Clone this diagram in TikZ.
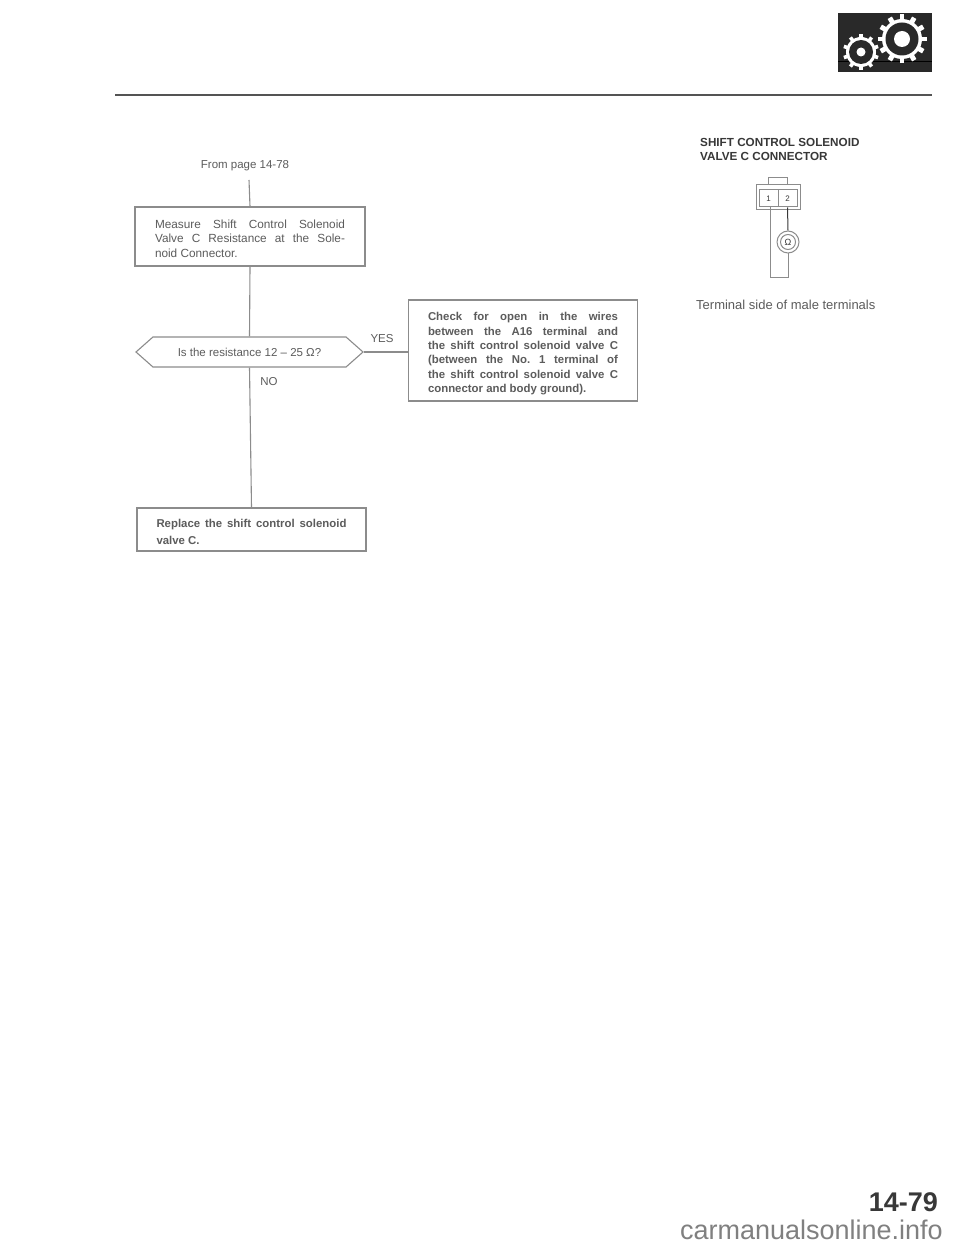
\documentclass[tikz,border=0pt]{standalone}
\usepackage{fontspec}
\setmainfont{Liberation Sans}
\frenchspacing
\usetikzlibrary{shapes.symbols}
\definecolor{ink}{gray}{0.36}
\definecolor{wire}{gray}{0.55}
\definecolor{dark}{gray}{0.22}
\definecolor{plate}{gray}{0.16}
\newcommand{\fl}[1]{\makebox[190pt][s]{#1}}
\newcommand{\tp}[1]{\rule{0pt}{#1pt}}
\tikzset{
  flowbox/.style={draw=wire,line width=1.1pt,rectangle,inner sep=0pt,text=ink,align=left},
  link/.style={draw=wire,line width=1.1pt},
  lbl/.style={inner sep=0pt,text=ink,font=\fontsize{11.5}{13}\selectfont},
  hdr/.style={inner sep=0pt,text=dark,anchor=west,font=\fontsize{11.7}{13}\selectfont\bfseries},
  conn/.style={draw=wire,line width=1pt},
  pinbox/.style={conn,draw,rectangle,minimum width=19pt,minimum height=17pt,inner sep=0pt,text=dark,font=\fontsize{8}{9}\selectfont}
}
\newcommand{\gear}[5]{% x y outer inner teeth
  \fill[white] (#1,#2) circle (#4);
  \foreach \a in {1,...,#5}{
    \fill[white,rotate around={360/#5*\a:(#1,#2)}] (#1-#3*0.1,#2) rectangle (#1+#3*0.1,#2-#3);
  }
}
\begin{document}
\begin{tikzpicture}[x=1pt,y=-1pt]
\useasboundingbox (0,0) rectangle (960,1246);
\fill[white] (0,0) rectangle (960,1246);
% header icon and rule
\fill[plate] (838,13) rectangle (932,72);
\draw[black,line width=1pt] (838,62) -- (932,62);
\gear{902}{39}{24.5}{20}{12}
\fill[plate] (902,39) circle (16.5);
\fill[white] (902,39) circle (8);
\gear{861}{52}{18}{15}{10}
\fill[plate] (861,52) circle (12);
\fill[white] (861,52) circle (4.5);
\draw[plate!80,line width=1.6pt] (115,95) -- (932,95);
% flowchart
\node[lbl] (from) at (245,166) {From page 14-78};
\coordinate (fromend) at (249,180);
\node[flowbox,minimum width=230pt,minimum height=59pt,font=\fontsize{11.8}{14.2}\selectfont] (measure) at (250,236.5)
  {\tp{13}\fl{Measure Shift Control Solenoid}\\\fl{Valve C Resistance at the Sole-}\\noid Connector.};
\node[signal,signal to=west and east,signal pointer angle=83,draw=wire,line width=1.1pt,minimum width=227pt,minimum height=30pt,inner sep=0pt,text=ink,font=\fontsize{11.5}{13}\selectfont] (ask) at (249.5,352) {Is the resistance 12 -- 25 Ω?};
\node[flowbox,minimum width=229pt,minimum height=101pt,font=\fontsize{11.4}{14.4}\selectfont\bfseries] (check) at (523,350.5)
  {\tp{15}\fl{Check for open in the wires}\\\fl{between the A16 terminal and}\\\fl{the shift control solenoid valve C}\\\fl{(between the No. 1 terminal of}\\\fl{the shift control solenoid valve C}\\connector and body ground).};
\node[flowbox,minimum width=229pt,minimum height=43pt,font=\fontsize{11.4}{17}\selectfont\bfseries] (replace) at (251.5,529.5)
  {\tp{13}\fl{Replace the shift control solenoid}\\valve C.};
\node[lbl] (yes) at (382,339) {YES};
\node[lbl] (no) at (269,382) {NO};
\draw[link] (fromend) -- (measure.north);
\draw[link] (measure.south) -- (ask.north);
\draw[link] (ask.south) -- (replace.north);
\draw[link] (ask.east) -- (ask.east -| check.west);
% connector panel
\node[hdr] (title1) at (700,142) {SHIFT CONTROL SOLENOID};
\node[hdr] (title2) at (700,156) {VALVE C CONNECTOR};
\draw[conn] (756,185) rectangle (800,210);
\draw[conn] (768,185) -- (768,178) -- (787,178) -- (787,185);
\node[pinbox] (pinone) at (768.5,198.5) {1};
\node[pinbox] (pintwo) at (787.5,198.5) {2};
\node[circle,draw=wire,line width=1pt,minimum size=22pt,inner sep=0pt,text=dark,font=\fontsize{9}{10}\selectfont] (meter) at (788,242) {Ω};
\draw[conn] (meter) circle (7.5);
\coordinate (loopright) at (788,278);
\coordinate (loopleft) at (770,278);
\draw[conn,draw=dark] (pintwo.south) -- (meter.north);
\draw[conn] (meter.south) -- (loopright) -- (loopleft) -- (pinone.south -| loopleft);
\node[lbl,font=\fontsize{13}{15}\selectfont,anchor=west] (side) at (696,305) {Terminal side of male terminals};
% page number and footer
\node[inner sep=0pt,text=dark,anchor=east,font=\fontsize{27}{30}\selectfont\bfseries] (pageno) at (938,1202) {14-79};
\node[inner sep=0pt,text=black!50,anchor=east,font=\fontsize{27}{30}\selectfont] (site) at (943,1230) {carmanualsonline.info};
\end{tikzpicture}
\end{document}
